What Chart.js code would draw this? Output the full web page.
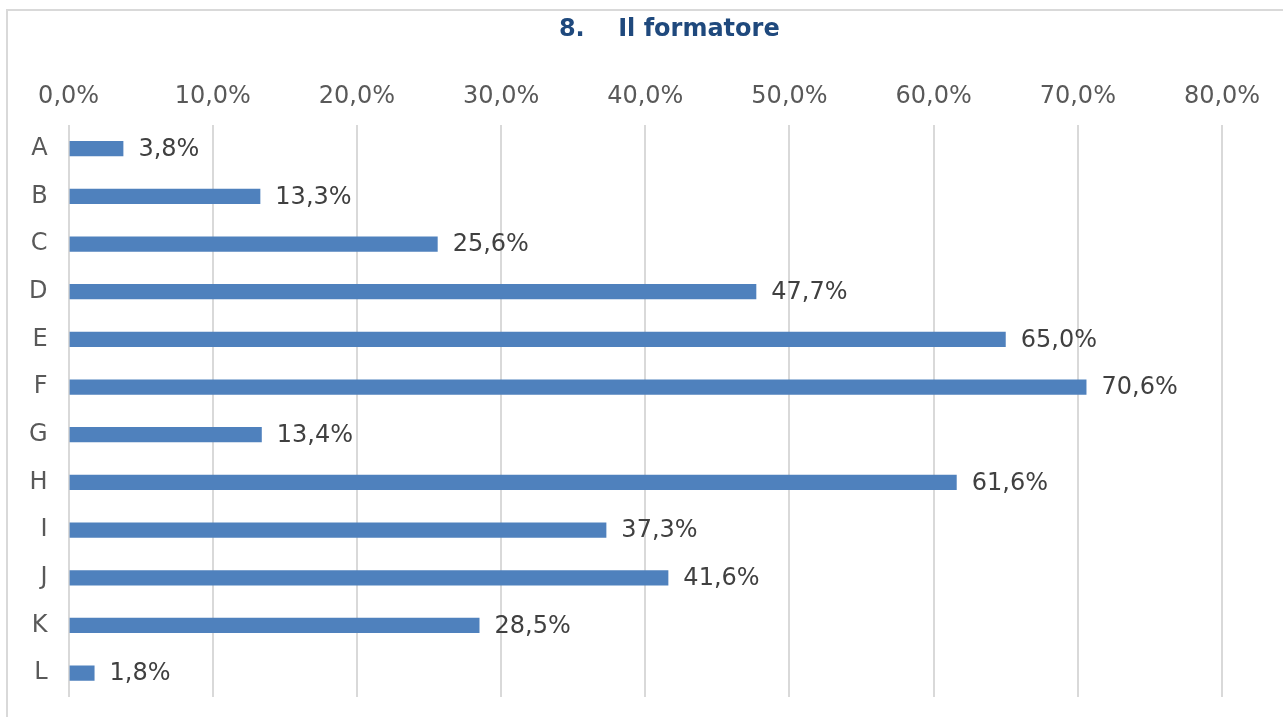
<!DOCTYPE html>
<html>
<head>
<meta charset="utf-8">
<script src="https://cdn.jsdelivr.net/npm/chart.js@4"></script>
<style>
  html, body { margin: 0; padding: 0; background: #fff; overflow: hidden; }
  #frame { position: absolute; left: 6px; top: 9px; width: 1300px; height: 730px; border: 2px solid #d9d9d9; }
  #wrap { position: absolute; left: 0; top: 0; width: 1283px; height: 717px; }
</style>
</head>
<body>
<div id="frame"></div>
<div id="wrap"><canvas id="chart" width="1283" height="717"></canvas></div>
<script>
const titleText = '8.    Il formatore';
const categories = ['A', 'B', 'C', 'D', 'E', 'F', 'G', 'H', 'I', 'J', 'K', 'L'];
const values = [3.8, 13.3, 25.6, 47.7, 65.0, 70.6, 13.4, 61.6, 37.3, 41.6, 28.5, 1.8];
const tickValues = [0, 10, 20, 30, 40, 50, 60, 70, 80];

const FONT = '"DejaVu Sans", Verdana, sans-serif';

function pct(v) {
    return v.toFixed(1).replace('.', ',') + '%';
}

// no extra room for overflowing tick labels, layout padding does it all
function noMargins(scale) {
    scale.paddingTop = 0;
    scale.paddingBottom = 0;
    scale.paddingLeft = 0;
    scale.paddingRight = 0;
}

// title drawn by hand so it sits where the original has it
const titlePlugin = {
    id: 'titleText',
    afterDraw(chart) {
        const ctx = chart.ctx;
        const area = chart.chartArea;
        ctx.save();
        ctx.font = 'bold 24px ' + FONT;
        ctx.fillStyle = '#1f497d';
        ctx.textAlign = 'center';
        ctx.textBaseline = 'middle';
        ctx.fillText(titleText, (area.left + area.right) / 2 + 24, 30);
        ctx.restore();
    }
};

const valueLabels = {
    id: 'valueLabels',
    afterDatasetsDraw(chart) {
        const ctx = chart.ctx;
        const meta = chart.getDatasetMeta(0);
        ctx.save();
        ctx.font = '24px ' + FONT;
        ctx.fillStyle = '#404040';
        ctx.textAlign = 'left';
        ctx.textBaseline = 'middle';
        meta.data.forEach(function (bar, i) {
            ctx.fillText(pct(values[i]), bar.x + 15, bar.y + 1);
        });
        ctx.restore();
    }
};

new Chart(document.getElementById('chart'), {
    type: 'bar',
    data: {
        labels: categories,
        datasets: [{
            data: values,
            backgroundColor: '#4f81bd',
            barPercentage: 0.5,
            categoryPercentage: 0.64
        }]
    },
    options: {
        indexAxis: 'y',
        responsive: false,
        animation: false,
        layout: {
            padding: { top: 68, left: 8, right: 61, bottom: 20 }
        },
        scales: {
            x: {
                position: 'top',
                min: 0,
                max: 80,
                afterBuildTicks(axis) {
                    axis.ticks = tickValues.map(v => ({ value: v }));
                },
                afterFit: noMargins,
                grid: { color: '#d9d9d9', lineWidth: 2, drawTicks: false },
                border: { display: false },
                ticks: {
                    padding: 14,
                    color: '#595959',
                    font: { family: FONT, size: 24 },
                    callback: v => pct(v)
                }
            },
            y: {
                afterFit: noMargins,
                grid: { display: false, drawTicks: false },
                border: { display: false },
                ticks: {
                    padding: 21,
                    color: '#595959',
                    font: { family: FONT, size: 24 }
                }
            }
        },
        plugins: {
            legend: { display: false },
            title: { display: false },
            tooltip: { enabled: false }
        }
    },
    plugins: [titlePlugin, valueLabels]
});
</script>
</body>
</html>
